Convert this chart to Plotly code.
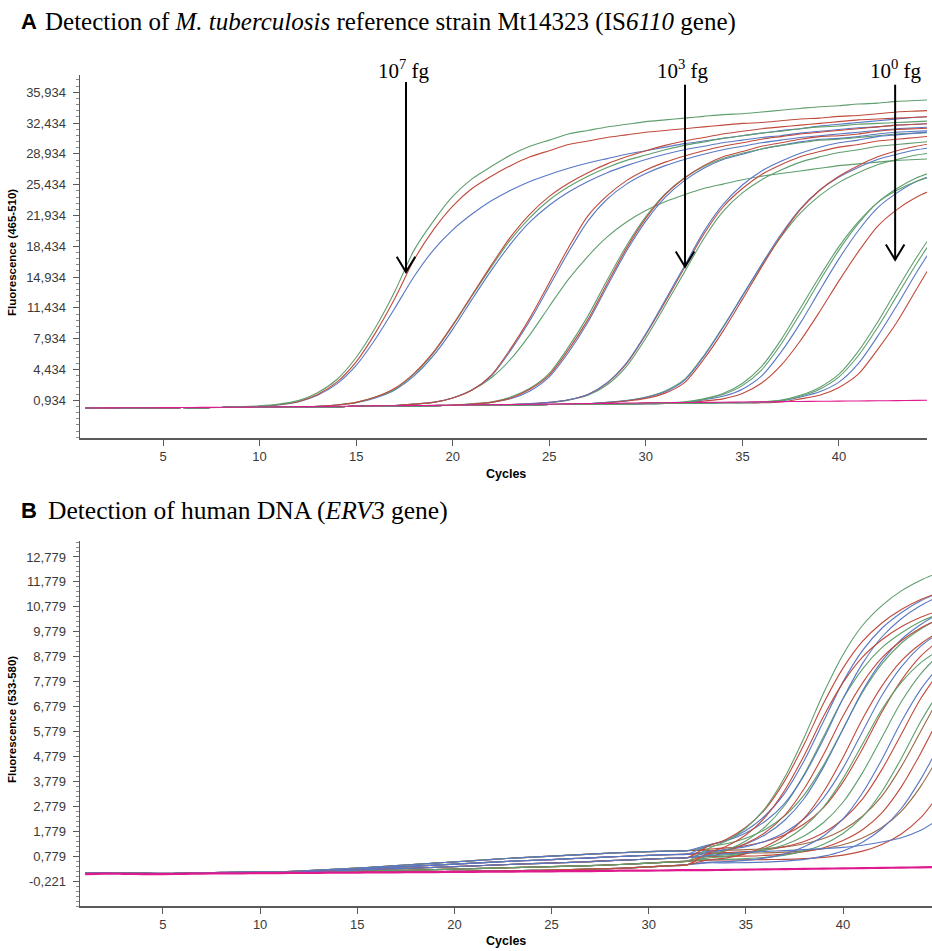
import plotly.graph_objects as go

CYCLES = list(range(1, 46))

# ---------------- Panel A (IS6110, 465-510) ----------------
BASE_A = [0.05, 0.07, 0.06, 0.08, 0.09, 0.11, 0.1, 0.12, 0.13, 0.15, 0.16, 0.18, 0.21, 0.22, 0.24,
          0.27, 0.28, 0.3, 0.33, 0.34, 0.36, 0.39, 0.4, 0.42, 0.45, 0.46, 0.48, 0.51, 0.52, 0.54,
          0.57, 0.58, 0.6, 0.63, 0.64, 0.66, 0.69, 0.7, 0.72, 0.75, 0.76, 0.78, 0.81, 0.82, 0.84]

A_1E7_GREEN = BASE_A[:8] + [0.2, 0.3, 0.5, 0.9, 1.8, 3.3, 5.8, 9.2, 13.3, 18.0, 21.3, 24.1, 26.1, 27.5, 28.8, 29.8,
                            30.5, 31.2, 31.6, 32.0, 32.3, 32.6, 32.8, 33.0, 33.2, 33.4, 33.5, 33.7, 33.9, 34.1,
                            34.3, 34.4, 34.6, 34.7, 34.9, 35.0, 35.1]
A_1E7_RED = BASE_A[:8] + [0.15, 0.25, 0.45, 0.8, 1.6, 3.0, 5.3, 8.6, 12.5, 16.9, 20.3, 23.0, 25.0, 26.4, 27.6, 28.6,
                          29.3, 30.0, 30.4, 30.8, 31.1, 31.4, 31.6, 31.8, 32.0, 32.2, 32.4, 32.5, 32.7, 32.9,
                          33.0, 33.2, 33.3, 33.5, 33.7, 33.8, 33.9]
A_1E7_BLUE = BASE_A[:8] + [0.15, 0.25, 0.4, 0.75, 1.5, 2.8, 4.9, 7.9, 11.4, 15.0, 18.0, 20.3, 22.1, 23.6, 24.8, 25.8,
                           26.6, 27.3, 27.9, 28.4, 28.9, 29.3, 29.7, 30.1, 30.4, 30.7, 31.0, 31.3, 31.6, 31.8,
                           32.1, 32.3, 32.5, 32.7, 32.9, 33.1, 33.2]

A_1E6_RED = BASE_A[:12] + [0.25, 0.4, 0.7, 1.3, 2.3, 4.0, 6.4, 9.5, 12.9, 16.3, 19.5, 22.1, 24.1, 25.6, 26.8, 27.8,
                           28.6, 29.3, 29.9, 30.4, 30.8, 31.2, 31.5, 31.8, 32.0, 32.2, 32.4, 32.6, 32.8, 32.9,
                           33.0, 33.1, 33.2]
A_1E6_GREEN = BASE_A[:12] + [0.25, 0.4, 0.7, 1.3, 2.2, 3.9, 6.3, 9.4, 12.8, 16.1, 19.2, 21.7, 23.7, 25.2, 26.4, 27.4,
                             28.2, 28.8, 29.4, 29.9, 30.3, 30.7, 31.0, 31.3, 31.5, 31.8, 32.0, 32.1, 32.3, 32.4,
                             32.5, 32.6, 32.7]
A_1E6_BLUE = BASE_A[:12] + [0.25, 0.4, 0.65, 1.2, 2.1, 3.7, 6.0, 9.0, 12.4, 15.7, 18.7, 21.2, 23.1, 24.6, 25.8, 26.8,
                            27.6, 28.3, 28.9, 29.4, 29.8, 30.2, 30.5, 30.8, 31.0, 31.3, 31.5, 31.7, 31.9, 32.0,
                            32.2, 32.3, 32.4]

A_1E5_RED = BASE_A[:15] + [0.3, 0.35, 0.5, 0.7, 1.2, 2.1, 3.8, 6.8, 10.3, 14.3, 18.3, 21.9, 24.2, 25.9, 27.1, 28.0,
                           28.7, 29.3, 29.8, 30.2, 30.6, 30.9, 31.2, 31.4, 31.6, 31.8, 32.0, 32.2, 32.3, 32.4]
A_1E5_BLUE = BASE_A[:15] + [0.3, 0.35, 0.5, 0.7, 1.2, 2.1, 3.7, 6.6, 10.0, 13.9, 17.8, 21.3, 23.8, 25.5, 26.7, 27.6,
                            28.3, 28.9, 29.4, 29.8, 30.2, 30.5, 30.8, 31.0, 31.2, 31.4, 31.6, 31.8, 31.9, 32.0]
A_1E5_GREEN = BASE_A[:15] + [0.3, 0.35, 0.5, 0.7, 1.2, 2.1, 3.5, 5.6, 8.4, 11.6, 14.7, 17.3, 19.5, 21.2, 22.5, 23.5,
                             24.3, 25.0, 25.5, 26.0, 26.4, 26.7, 27.0, 27.3, 27.6, 27.8, 28.0, 28.2, 28.3, 28.4]

A_1E4_RED = BASE_A[:18] + [0.35, 0.4, 0.5, 0.7, 1.2, 2.2, 3.8, 6.7, 10.1, 14.2, 18.2, 21.6, 24.3, 26.2, 27.6, 28.6,
                           29.2, 29.8, 30.2, 30.6, 30.9, 31.0, 31.2, 31.5, 31.7, 31.8, 31.9]
A_1E4_GREEN = BASE_A[:18] + [0.35, 0.4, 0.55, 0.75, 1.3, 2.3, 4.0, 7.0, 10.5, 14.6, 18.5, 21.8, 24.4, 26.2, 27.5, 28.4,
                             29.0, 29.5, 29.9, 30.2, 30.5, 30.6, 30.8, 31.0, 31.2, 31.3, 31.4]
A_1E4_BLUE = BASE_A[:18] + [0.35, 0.4, 0.5, 0.7, 1.1, 2.0, 3.6, 6.4, 9.8, 13.9, 17.9, 21.3, 24.0, 25.9, 27.3, 28.3,
                            28.9, 29.5, 29.9, 30.3, 30.6, 30.7, 30.9, 31.2, 31.4, 31.5, 31.6]

A_1E3_RED = BASE_A[:21] + [0.4, 0.45, 0.55, 0.7, 1.0, 1.6, 2.9, 5.1, 8.4, 12.1, 16.0, 19.8, 22.9, 25.0, 26.6, 27.7,
                           28.6, 29.2, 29.7, 30.0, 30.4, 30.6, 30.8, 31.0]
A_1E3_BLUE = BASE_A[:21] + [0.4, 0.45, 0.55, 0.7, 1.0, 1.6, 2.95, 5.2, 8.5, 12.3, 16.2, 20.1, 23.2, 25.4, 27.0, 28.1,
                            29.0, 29.7, 30.2, 30.5, 30.9, 31.1, 31.3, 31.5]
A_1E3_GREEN = BASE_A[:21] + [0.4, 0.45, 0.5, 0.65, 0.95, 1.5, 2.7, 4.8, 8.0, 11.7, 15.5, 19.3, 22.4, 24.5, 26.0, 27.1,
                             28.0, 28.6, 29.1, 29.4, 29.8, 30.0, 30.2, 30.4]

A_1E2_RED = BASE_A[:25] + [0.5, 0.55, 0.65, 0.85, 1.15, 1.75, 2.95, 5.6, 8.8, 12.4, 16.1, 19.6, 22.6, 24.8, 26.4,
                           27.6, 28.6, 29.3, 29.8, 30.2]
A_1E2_BLUE = BASE_A[:25] + [0.5, 0.55, 0.7, 0.9, 1.25, 1.9, 3.2, 5.9, 9.2, 12.8, 16.4, 19.8, 22.7, 24.8, 26.3,
                            27.4, 28.3, 28.9, 29.4, 29.7]
A_1E2_GREEN = BASE_A[:25] + [0.5, 0.55, 0.7, 0.9, 1.3, 2.0, 3.3, 6.0, 9.3, 12.8, 16.3, 19.5, 22.2, 24.2, 25.7,
                             26.8, 27.7, 28.3, 28.8, 29.1]

A_1E1_GREEN = BASE_A[:28] + [0.55, 0.6, 0.65, 0.75, 1.1, 1.7, 2.85, 4.8, 7.8, 11.4, 15.0, 18.4, 21.2, 23.4, 24.8,
                             25.8, 26.5]
A_1E1_GREEN2 = BASE_A[:28] + [0.55, 0.6, 0.62, 0.7, 1.05, 1.6, 2.6, 4.4, 7.3, 10.8, 14.5, 18.0, 21.0, 23.4, 25.0,
                              26.2, 27.0]
A_1E1_BLUE = BASE_A[:28] + [0.55, 0.6, 0.6, 0.65, 1.0, 1.4, 2.2, 3.7, 6.4, 9.7, 13.4, 17.0, 20.2, 22.8, 24.5,
                            25.8, 26.6]
A_1E1_RED = BASE_A[:28] + [0.55, 0.6, 0.6, 0.65, 0.85, 1.1, 1.7, 2.9, 4.9, 7.7, 11.0, 14.5, 17.8, 20.7, 22.6,
                           24.0, 25.0]

A_1E0_GREEN = BASE_A[:33] + [0.65, 0.65, 0.75, 0.95, 1.5, 2.4, 3.9, 6.5, 9.8, 13.5, 17.1, 20.4]
A_1E0_GREEN2 = BASE_A[:33] + [0.65, 0.65, 0.72, 0.9, 1.4, 2.2, 3.6, 6.0, 9.2, 12.8, 16.4, 19.7]
A_1E0_BLUE = BASE_A[:33] + [0.65, 0.65, 0.7, 0.85, 1.3, 1.9, 3.0, 5.1, 8.2, 11.7, 15.4, 18.8]
A_1E0_RED = BASE_A[:33] + [0.65, 0.65, 0.65, 0.75, 1.1, 1.5, 2.4, 3.9, 6.7, 9.8, 13.5, 17.2]

A_NEG = [0.06, 0.07, 0.08, 0.09, 0.1, 0.11, 0.13, 0.14, 0.15, 0.17, 0.19, 0.21, 0.23, 0.25, 0.27,
         0.3, 0.32, 0.34, 0.36, 0.38, 0.41, 0.43, 0.45, 0.48, 0.5, 0.53, 0.56, 0.59, 0.62, 0.64,
         0.66, 0.68, 0.7, 0.72, 0.74, 0.76, 0.78, 0.8, 0.82, 0.84, 0.86, 0.88, 0.9, 0.92, 0.94]

A_TICKVALS = [0.934, 4.434, 7.934, 11.434, 14.934, 18.434, 21.934, 25.434, 28.934, 32.434, 35.934]
A_TICKTEXT = ["0,934", "4,434", "7,934", "11,434", "14,934", "18,434", "21,934", "25,434",
              "28,934", "32,434", "35,934"]

# ---------------- Panel B (ERV3, 533-580) ----------------
PRE_HI = [0.10, 0.12, 0.10, 0.09, 0.08, 0.09, 0.12, 0.12, 0.14, 0.15, 0.15, 0.18, 0.22, 0.26, 0.30, 0.35,
          0.40, 0.45, 0.50, 0.55, 0.60, 0.65, 0.70, 0.74, 0.78, 0.82, 0.86, 0.90, 0.93, 0.96, 0.98, 1.00]
PRE_MH = [0.11, 0.10, 0.10, 0.09, 0.09, 0.10, 0.11, 0.13, 0.13, 0.14, 0.15, 0.16, 0.20, 0.23, 0.26, 0.30,
          0.34, 0.38, 0.42, 0.46, 0.50, 0.54, 0.58, 0.61, 0.64, 0.68, 0.71, 0.75, 0.78, 0.81, 0.84, 0.86]
PRE_MID = [0.10, 0.11, 0.09, 0.09, 0.08, 0.08, 0.11, 0.12, 0.12, 0.13, 0.14, 0.15, 0.17, 0.20, 0.22, 0.25,
           0.28, 0.30, 0.33, 0.36, 0.39, 0.42, 0.45, 0.48, 0.50, 0.53, 0.56, 0.60, 0.63, 0.66, 0.69, 0.72]
PRE_ML = [0.09, 0.11, 0.10, 0.08, 0.08, 0.09, 0.10, 0.11, 0.12, 0.12, 0.13, 0.14, 0.15, 0.16, 0.18, 0.19,
          0.21, 0.22, 0.24, 0.26, 0.28, 0.30, 0.32, 0.34, 0.36, 0.38, 0.40, 0.43, 0.46, 0.50, 0.54, 0.58]
PRE_LO = [0.08, 0.10, 0.09, 0.08, 0.07, 0.08, 0.10, 0.11, 0.11, 0.12, 0.12, 0.12, 0.13, 0.13, 0.14, 0.14,
          0.15, 0.15, 0.16, 0.17, 0.18, 0.19, 0.20, 0.21, 0.22, 0.24, 0.26, 0.28, 0.31, 0.35, 0.39, 0.44]

B_01_GREEN = PRE_ML + [1.06, 1.39, 1.91, 2.71, 3.94, 5.54, 7.32, 8.86, 10.03, 10.83, 11.42, 11.85, 12.18]
B_02_RED = PRE_MID + [1.16, 1.46, 1.94, 2.67, 3.8, 5.27, 6.91, 8.32, 9.39, 10.13, 10.67, 11.07, 11.37]
B_03_RED = PRE_LO + [0.89, 1.18, 1.63, 2.34, 3.42, 4.82, 6.39, 7.74, 8.76, 9.46, 9.98, 10.36, 10.65]
B_04_BLUE = PRE_MH + [1.19, 1.42, 1.81, 2.41, 3.31, 4.61, 6.19, 7.77, 9.02, 9.92, 10.54, 11.02, 11.36]
B_05_BLUE = PRE_HI + [1.22, 1.4, 1.71, 2.18, 2.9, 4.02, 5.48, 7.1, 8.5, 9.57, 10.3, 10.83, 11.23]
B_06_GREEN = PRE_LO + [0.79, 1.02, 1.39, 1.96, 2.82, 4.06, 5.58, 7.09, 8.28, 9.14, 9.73, 10.19, 10.51]
B_07_RED = PRE_ML + [0.83, 1.0, 1.29, 1.73, 2.42, 3.48, 4.86, 6.4, 7.72, 8.73, 9.42, 9.93, 10.3]
B_08_BLUE = PRE_MID + [0.91, 1.04, 1.27, 1.64, 2.22, 3.09, 4.35, 5.87, 7.4, 8.6, 9.47, 10.07, 10.53]
B_09_GREEN = PRE_HI + [1.16, 1.28, 1.5, 1.85, 2.4, 3.24, 4.43, 5.89, 7.34, 8.49, 9.32, 9.89, 10.33]
B_10_RED = PRE_LO + [0.62, 0.71, 0.88, 1.17, 1.61, 2.3, 3.36, 4.74, 6.28, 7.6, 8.61, 9.3, 9.81]
B_11_BLUE = PRE_MH + [0.96, 1.04, 1.16, 1.38, 1.73, 2.28, 3.12, 4.31, 5.77, 7.22, 8.37, 9.2, 9.77]
B_12_GREEN = PRE_ML + [0.7, 0.77, 0.89, 1.1, 1.43, 1.96, 2.75, 3.89, 5.27, 6.66, 7.75, 8.54, 9.08]
B_13_RED = PRE_HI + [1.06, 1.11, 1.2, 1.37, 1.64, 2.07, 2.73, 3.75, 5.08, 6.56, 7.83, 8.8, 9.47]
B_14_GREEN = PRE_MID + [0.79, 0.83, 0.9, 1.03, 1.24, 1.59, 2.13, 2.94, 4.12, 5.54, 6.97, 8.09, 8.91]
B_15_BLUE = PRE_LO + [0.53, 0.56, 0.61, 0.71, 0.87, 1.16, 1.59, 2.27, 3.31, 4.66, 6.17, 7.47, 8.46]
B_16_RED = PRE_MH + [0.9, 0.92, 0.96, 1.03, 1.16, 1.37, 1.72, 2.26, 3.07, 4.25, 5.67, 7.1, 8.22]
B_17_GREEN = PRE_ML + [0.64, 0.65, 0.68, 0.73, 0.82, 0.99, 1.26, 1.69, 2.35, 3.37, 4.7, 6.18, 7.45]
B_18_BROWN = PRE_HI + [1.01, 1.02, 1.04, 1.08, 1.15, 1.28, 1.49, 1.84, 2.38, 3.19, 4.37, 5.79, 7.22]
B_19_RED = PRE_MID + [0.76, 0.77, 0.78, 0.81, 0.86, 0.96, 1.12, 1.41, 1.84, 2.52, 3.56, 4.91, 6.42]
B_20_BLUE = PRE_LO + [0.51, 0.51, 0.52, 0.54, 0.58, 0.65, 0.78, 0.99, 1.34, 1.88, 2.69, 3.87, 5.29]
B_21_BROWN = PRE_MH + [0.89, 0.89, 0.9, 0.91, 0.94, 0.99, 1.08, 1.24, 1.51, 1.93, 2.58, 3.58, 4.88]
B_22_RED = PRE_ML + [0.62, 0.63, 0.63, 0.64, 0.65, 0.68, 0.73, 0.82, 0.98, 1.25, 1.67, 2.32, 3.32]
B_LOW_BLUE = PRE_MID + [0.8, 0.88, 0.93, 0.97, 1.0, 1.04, 1.08, 1.13, 1.22, 1.35, 1.52, 1.82, 2.3]
B_NEG = [0.06, 0.08, 0.07, 0.06, 0.06, 0.07, 0.08, 0.09, 0.09, 0.1, 0.1, 0.11, 0.11, 0.12, 0.12,
         0.13, 0.13, 0.14, 0.14, 0.15, 0.15, 0.16, 0.16, 0.17, 0.17, 0.18, 0.18, 0.19, 0.2, 0.2,
         0.21, 0.22, 0.22, 0.23, 0.24, 0.25, 0.26, 0.27, 0.28, 0.29, 0.3, 0.31, 0.32, 0.33, 0.34]

B_TICKVALS = [-0.221, 0.779, 1.779, 2.779, 3.779, 4.779, 5.779, 6.779, 7.779, 8.779, 9.779,
              10.779, 11.779, 12.779]
B_TICKTEXT = ["-0,221", "0,779", "1,779", "2,779", "3,779", "4,779", "5,779", "6,779", "7,779",
              "8,779", "9,779", "10,779", "11,779", "12,779"]

X_TICKS = [5, 10, 15, 20, 25, 30, 35, 40]

# arrow markers (cycle, top value, tip value) and labels
ARROWS = [(17.58, 37.1, 15.5), (32.03, 36.8, 16.1), (42.91, 36.8, 16.9)]
ARROW_LABELS = ["10<sup>7</sup> fg", "10<sup>3</sup> fg", "10<sup>0</sup> fg"]

GREEN = "#5f9e6e"
RED = "#c04a3b"
BLUE = "#5878c4"
BROWN = "#9a6a45"
MAGENTA = "#e0198f"

A_SERIES = [
    (A_1E7_BLUE, BLUE), (A_1E7_RED, RED), (A_1E7_GREEN, GREEN),
    (A_1E6_BLUE, BLUE), (A_1E6_GREEN, GREEN), (A_1E6_RED, RED),
    (A_1E5_GREEN, GREEN), (A_1E5_BLUE, BLUE), (A_1E5_RED, RED),
    (A_1E4_BLUE, BLUE), (A_1E4_GREEN, GREEN), (A_1E4_RED, RED),
    (A_1E3_GREEN, GREEN), (A_1E3_RED, RED), (A_1E3_BLUE, BLUE),
    (A_1E2_GREEN, GREEN), (A_1E2_BLUE, BLUE), (A_1E2_RED, RED),
    (A_1E1_RED, RED), (A_1E1_BLUE, BLUE), (A_1E1_GREEN2, GREEN), (A_1E1_GREEN, GREEN),
    (A_1E0_RED, RED), (A_1E0_BLUE, BLUE), (A_1E0_GREEN2, GREEN), (A_1E0_GREEN, GREEN),
    (A_NEG, MAGENTA),
]
B_SERIES = [
    (B_22_RED, RED), (B_21_BROWN, BROWN), (B_20_BLUE, BLUE), (B_19_RED, RED), (B_18_BROWN, BROWN),
    (B_17_GREEN, GREEN), (B_16_RED, RED), (B_15_BLUE, BLUE), (B_14_GREEN, GREEN), (B_13_RED, RED),
    (B_12_GREEN, GREEN), (B_11_BLUE, BLUE), (B_10_RED, RED), (B_09_GREEN, GREEN), (B_08_BLUE, BLUE),
    (B_07_RED, RED), (B_06_GREEN, GREEN), (B_05_BLUE, BLUE), (B_04_BLUE, BLUE), (B_03_RED, RED),
    (B_02_RED, RED), (B_01_GREEN, GREEN), (B_LOW_BLUE, BLUE), (B_NEG, MAGENTA),
]

for ys, _ in A_SERIES + B_SERIES:
    assert len(ys) == len(CYCLES)

fig = go.Figure()
for ys, col in A_SERIES:
    fig.add_trace(go.Scatter(x=CYCLES, y=ys, mode="lines", xaxis="x", yaxis="y",
                             line=dict(color=col, width=1.1, shape="spline", smoothing=0.8),
                             hoverinfo="skip", showlegend=False))
for ys, col in B_SERIES:
    w = 2.2 if col == MAGENTA else 1.1
    fig.add_trace(go.Scatter(x=CYCLES, y=ys, mode="lines", xaxis="x2", yaxis="y2",
                             line=dict(color=col, width=w, shape="spline", smoothing=0.8),
                             hoverinfo="skip", showlegend=False))

W, H = 932, 951
AX_COL = "#5a5a5a"
TICK_FONT = dict(family="Liberation Sans, Arial, sans-serif", size=13, color="#3a3a3a")

def xax(domain, rng, anchor):
    return dict(domain=domain, range=rng, anchor=anchor, tickvals=X_TICKS, ticks="outside",
                ticklen=6, tickwidth=1, tickcolor=AX_COL, showline=True, linecolor=AX_COL,
                linewidth=1.5, showgrid=False, zeroline=False, tickfont=TICK_FONT, fixedrange=True)

def yax(domain, rng, anchor, tv, tt, minor_dtick):
    return dict(domain=domain, range=rng, anchor=anchor, tickvals=tv, ticktext=tt, ticks="outside",
                ticklen=6, tickwidth=1, tickcolor=AX_COL, showline=True, linecolor=AX_COL,
                linewidth=1.5, showgrid=False, zeroline=False, tickfont=TICK_FONT,
                ticklabelstandoff=4,
                minor=dict(tick0=tv[0], dtick=minor_dtick, ticks="outside", ticklen=3,
                           tickcolor="#8a8a8a", showgrid=False),
                fixedrange=True)

shapes = []
for (cx, ytop, ytip) in ARROWS:
    shapes.append(dict(type="line", xref="x", yref="y", x0=cx, x1=cx, y0=ytop, y1=ytip,
                       line=dict(color="black", width=2)))
    shapes.append(dict(type="path", xref="x", yref="y",
                       path=f"M {cx - 0.48},{ytip + 1.75} L {cx},{ytip} L {cx + 0.48},{ytip + 1.75}",
                       line=dict(color="black", width=2)))

annotations = []
serif = "Liberation Serif, Times New Roman, serif"
sans = "Liberation Sans, Arial, sans-serif"
for px, label in zip([404, 683, 896], ARROW_LABELS):
    annotations.append(dict(text=label, xref="paper", yref="paper", x=px / W, y=1 - 70 / H,
                            xanchor="center", yanchor="middle", showarrow=False,
                            font=dict(family=serif, size=21, color="black")))

# panel titles
annotations += [
    dict(text="<b>A</b>", xref="paper", yref="paper", x=19 / W, y=1 - 22 / H, xanchor="left",
         yanchor="middle", showarrow=False, font=dict(family=sans, size=22, color="black")),
    dict(text="Detection of <i>M. tuberculosis</i> reference strain Mt14323 (IS<i>6110</i> gene)",
         xref="paper", yref="paper", x=43 / W, y=1 - 22 / H, xanchor="left", yanchor="middle",
         showarrow=False, font=dict(family=serif, size=25, color="black")),
    dict(text="<b>B</b>", xref="paper", yref="paper", x=19 / W, y=1 - 510 / H, xanchor="left",
         yanchor="middle", showarrow=False, font=dict(family=sans, size=22, color="black")),
    dict(text="Detection of human DNA (<i>ERV3</i> gene)",
         xref="paper", yref="paper", x=46 / W, y=1 - 510 / H, xanchor="left", yanchor="middle",
         showarrow=False, font=dict(family=serif, size=25.5, color="black")),
    # axis titles
    dict(text="<b>Fluorescence (465-510)</b>", xref="paper", yref="paper", x=12 / W, y=1 - 253 / H,
         xanchor="center", yanchor="middle", textangle=-90, showarrow=False,
         font=dict(family=sans, size=11.5, color="black")),
    dict(text="<b>Cycles</b>", xref="paper", yref="paper", x=506 / W, y=1 - 474 / H,
         xanchor="center", yanchor="middle", showarrow=False,
         font=dict(family=sans, size=12.5, color="black")),
    dict(text="<b>Fluorescence (533-580)</b>", xref="paper", yref="paper", x=12 / W, y=1 - 720 / H,
         xanchor="center", yanchor="middle", textangle=-90, showarrow=False,
         font=dict(family=sans, size=11.5, color="black")),
    dict(text="<b>Cycles</b>", xref="paper", yref="paper", x=506 / W, y=1 - 941 / H,
         xanchor="center", yanchor="middle", showarrow=False,
         font=dict(family=sans, size=12.5, color="black")),
]

fig.update_layout(
    width=W, height=H, autosize=False,
    margin=dict(l=0, r=0, t=0, b=0, pad=0),
    paper_bgcolor="white", plot_bgcolor="white",
    showlegend=False,
    xaxis=xax([80 / W, 927 / W], [0.7, 44.56], "y"),
    yaxis=yax([1 - 438 / H, 1 - 75 / H], [-3.35, 37.9], "x", A_TICKVALS, A_TICKTEXT, 0.7),
    xaxis2=xax([80 / W, 1.0], [0.73, 44.58], "y2"),
    yaxis2=yax([1 - 906 / H, 1 - 541 / H], [-1.22, 13.42], "x2", B_TICKVALS, B_TICKTEXT, 0.2),
    shapes=shapes,
    annotations=annotations,
)

fig.write_html("out.html", config={"displayModeBar": False, "staticPlot": True},
               post_script="document.body.style.margin='0';document.body.style.padding='0';")
